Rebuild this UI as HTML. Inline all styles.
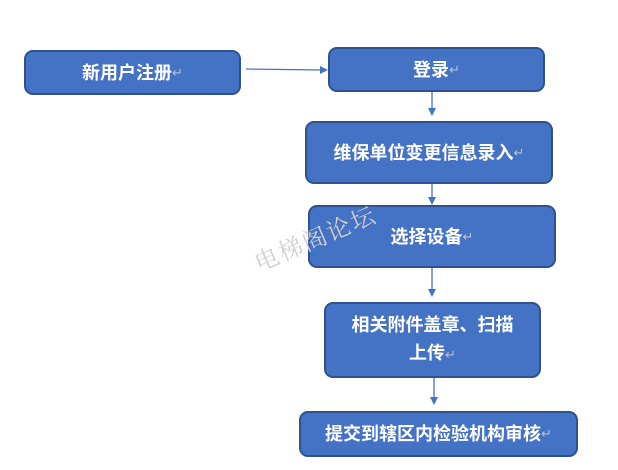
<!DOCTYPE html>
<html><head><meta charset="utf-8"><style>
body{margin:0;width:618px;height:470px;background:#fff;position:relative;overflow:hidden;font-family:"Liberation Sans","Noto Sans CJK SC",sans-serif}
.b{position:absolute;background:#4472C4;border:2px solid #2F528F;border-radius:9px;box-sizing:border-box;color:#fff;font-size:18px;font-weight:bold;display:flex;align-items:center;justify-content:center;text-align:center;line-height:28px}
.r{color:#b8c2d6;font-size:13px;font-weight:normal}
.wm{position:absolute;left:248px;top:246px;font-family:"Noto Serif CJK SC",serif;font-size:24px;color:#d0d0d0;transform:rotate(-23deg);transform-origin:left top;letter-spacing:2px;white-space:nowrap}
svg{position:absolute;left:0;top:0}
</style></head><body>
<div class="b" style="left:24px;top:50px;width:217px;height:45px">新用户注册<span class="r">↵</span></div>
<div class="b" style="left:328px;top:47px;width:217px;height:45px">登录<span class="r">↵</span></div>
<div class="b" style="left:305px;top:121px;width:248px;height:63px">维保单位变更信息录入<span class="r">↵</span></div>
<div class="b" style="left:308px;top:205px;width:248px;height:63px">选择设备<span class="r">↵</span></div>
<div class="b" style="left:324px;top:302px;width:217px;height:76px;padding:0 14px"><div>相关附件盖章、扫描<br>上传<span class="r">↵</span></div></div>
<div class="b" style="left:299px;top:411px;width:279px;height:46px">提交到辖区内检验机构审核<span class="r">↵</span></div>
<div class="wm">电梯阁论坛</div>
<svg width="618" height="470">
<g stroke="#4472C4" stroke-width="1.3" fill="#4472C4">
<line x1="246" y1="69" x2="322" y2="70"/><polygon points="328,70 320,66 320,74" stroke="none"/>
<line x1="432" y1="92" x2="432" y2="110"/><polygon points="432,116 428,108 436,108" stroke="none"/>
<line x1="432" y1="184" x2="432" y2="199"/><polygon points="432,205 428,197 436,197" stroke="none"/>
<line x1="432" y1="268" x2="432" y2="291"/><polygon points="432,297 428,289 436,289" stroke="none"/>
<line x1="434" y1="378" x2="434" y2="399"/><polygon points="434,405 430,397 438,397" stroke="none"/>
</g></svg>
</body></html>
